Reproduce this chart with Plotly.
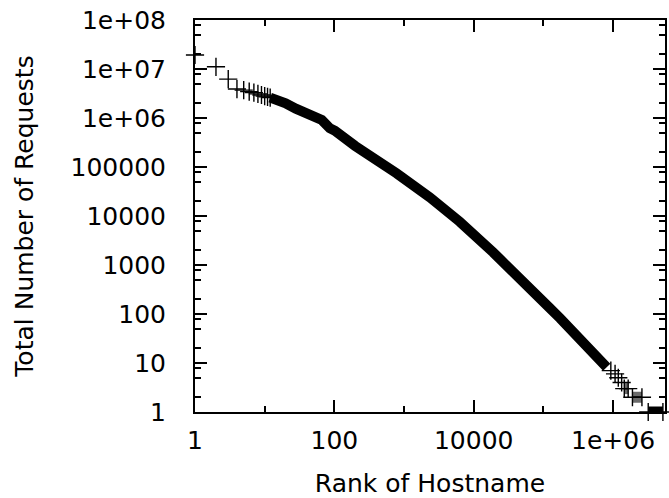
import plotly.graph_objects as go

# ---- data ----
# individually visible head points (rank, total requests)
head_rank = [1, 2, 3, 4, 5, 6, 7, 8, 9, 10, 11, 12]
head_count = [1.93e7, 1.11e7, 6.2e6, 3.9e6, 3.7e6, 3.45e6, 3.3e6, 3.1e6, 2.95e6, 2.8e6, 2.7e6, 2.6e6]

# dense body of the distribution (drawn as a thick band)
body_rank = [12, 15, 20, 28, 47, 66, 86, 102, 198, 261, 784, 2355, 4090, 6310,
             19050, 57500, 125000, 173800, 374000, 811000]
body_count = [2.6e6, 2.4e6, 2.0e6, 1.55e6, 1.2e6, 9.1e5, 6.2e5, 5.5e5, 2.7e5, 2.14e5,
              7.4e4, 2.4e4, 1.32e4, 7650, 1815, 423, 130, 82, 27, 8.2]

# discrete tail points
tail_pt_rank = [0.93e6, 1.07e6, 1.19e6, 1.33e6]
tail_pt_count = [7, 6, 5, 4]

# plateaus of the tail (count level, first rank, last rank)
plateau_count = [3, 2, 1]
plateau_start = [1.45e6, 1.9e6, 3.2e6]
plateau_end = [1.65e6, 2.6e6, 5.2e6]
plateau_color = ["#6a6a6a", "#6a6a6a", "black"]

x_tickvals = [1, 100, 1e4, 1e6]
x_ticktext = ["1", "100", "10000", "1e+06"]
x_minor = [10, 1000, 1e5]
y_tickvals = [1, 10, 100, 1000, 1e4, 1e5, 1e6, 1e7, 1e8]
y_ticktext = ["1", "10", "100", "1000", "10000", "100000", "1e+06", "1e+07", "1e+08"]
y_minor_mult = [2, 5, 8]

FONT = "DejaVu Sans"
BAND_W = 10
PLUS = dict(symbol="cross-thin", size=13, color="black", line=dict(color="black", width=1.4))

fig = go.Figure()

fig.add_trace(go.Scatter(x=body_rank, y=body_count, mode="lines",
                         line=dict(color="black", width=BAND_W), hoverinfo="skip"))

for c, s, e, col in zip(plateau_count, plateau_start, plateau_end, plateau_color):
    fig.add_trace(go.Scatter(x=[s, e], y=[c, c], mode="lines",
                             line=dict(color=col, width=11), hoverinfo="skip"))
    fig.add_trace(go.Scatter(x=[s, e], y=[c, c], mode="lines+markers",
                             line=dict(color="black", width=1.4), marker=PLUS,
                             cliponaxis=False, hoverinfo="skip"))

fig.add_trace(go.Scatter(x=head_rank, y=head_count, mode="markers", marker=PLUS,
                         cliponaxis=False))
fig.add_trace(go.Scatter(x=tail_pt_rank, y=tail_pt_count, mode="markers", marker=PLUS,
                         cliponaxis=False))

y_minor = [m * v for v in y_tickvals[:-1] for m in y_minor_mult]

axis_common = dict(
    type="log", showline=True, linecolor="black", linewidth=2, mirror="ticks",
    ticks="inside", ticklen=12, tickwidth=1.5, tickcolor="black",
    showgrid=False, zeroline=False, automargin=False,
    tickfont=dict(family=FONT, size=25, color="black"),
)

fig.update_layout(
    width=669, height=498,
    margin=dict(l=195, r=4, t=20, b=86),
    plot_bgcolor="white", paper_bgcolor="white",
    showlegend=False,
    font=dict(family=FONT, size=25, color="black"),
    xaxis=dict(
        **axis_common, range=[0, 6.746],
        tickmode="array", tickvals=x_tickvals, ticktext=x_ticktext,
        minor=dict(tickmode="array", tickvals=x_minor, ticks="inside", ticklen=6,
                   tickwidth=1.5, tickcolor="black", showgrid=False),
        ticklabelstandoff=5,
        title=dict(text="Rank of Hostname", font=dict(family=FONT, size=25, color="black"),
                   standoff=24),
    ),
    yaxis=dict(
        **axis_common, range=[0, 8],
        tickmode="array", tickvals=y_tickvals, ticktext=y_ticktext,
        minor=dict(tickmode="array", tickvals=y_minor, ticks="inside", ticklen=6,
                   tickwidth=1.5, tickcolor="black", showgrid=False),
        ticklabelstandoff=22,
        title=dict(text="Total Number of Requests", font=dict(family=FONT, size=25, color="black"),
                   standoff=30),
    ),
)

fig.write_html("out.html", config={"displayModeBar": False},
               post_script="document.body.style.margin='0';document.body.style.padding='0';")
